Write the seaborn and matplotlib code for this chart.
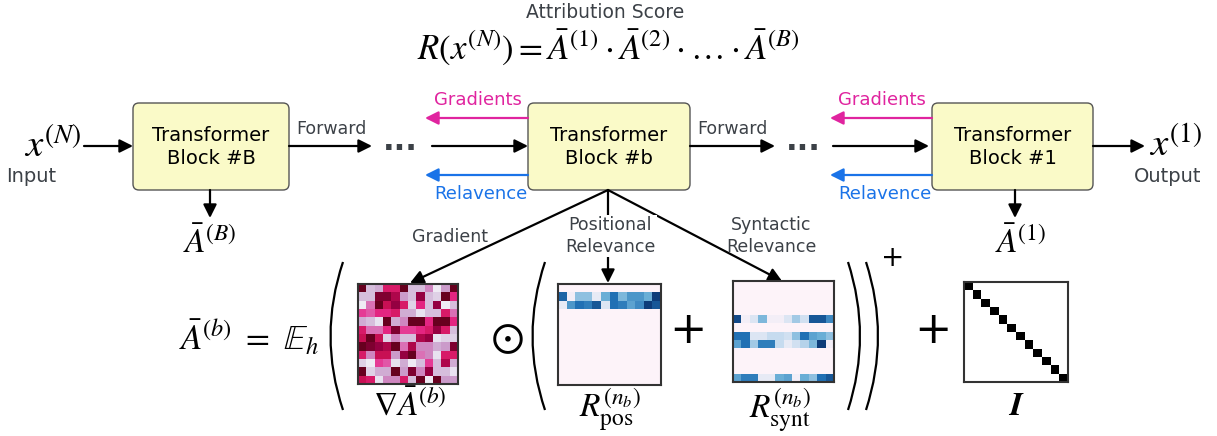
import numpy as np
import matplotlib
matplotlib.use('Agg')
import matplotlib.pyplot as plt
import seaborn as sns
from matplotlib.patches import FancyBboxPatch, PathPatch
from matplotlib.path import Path
from matplotlib.colors import LinearSegmentedColormap

# gradient attention map (12x12, PuRd scale)
grad_values = [
    [0.95, 0.20, 0.25, 0.60, 0.60, 0.95, 0.20, 0.20, 0.35, 0.05, 0.30, 0.90],
    [0.20, 0.20, 0.80, 0.80, 0.70, 0.30, 0.20, 0.75, 0.20, 0.15, 0.90, 0.55],
    [0.05, 0.40, 0.85, 0.65, 0.75, 0.60, 0.15, 0.55, 0.20, 0.75, 0.05, 0.20],
    [0.50, 0.45, 0.55, 0.55, 0.60, 0.25, 0.25, 0.10, 0.20, 0.20, 0.60, 0.40],
    [0.25, 0.20, 0.10, 0.85, 0.25, 0.35, 0.90, 0.90, 0.55, 0.90, 0.85, 0.55],
    [0.60, 0.40, 0.40, 0.55, 0.80, 0.50, 0.50, 0.55, 0.60, 0.75, 0.60, 0.20],
    [0.65, 0.90, 0.65, 0.15, 0.35, 0.20, 0.20, 0.70, 0.75, 0.10, 0.15, 0.15],
    [0.95, 0.80, 0.75, 0.70, 0.95, 0.40, 0.70, 0.35, 0.35, 0.25, 0.30, 0.80],
    [0.60, 0.35, 0.65, 0.65, 0.30, 0.75, 0.95, 0.40, 0.35, 0.10, 0.60, 0.60],
    [0.15, 0.05, 0.50, 0.45, 0.10, 0.25, 0.05, 0.20, 0.50, 0.20, 0.70, 0.25],
    [0.95, 0.15, 0.25, 0.25, 0.85, 0.30, 0.80, 0.35, 0.75, 0.20, 0.20, 0.10],
    [0.65, 0.60, 0.10, 0.35, 0.35, 0.60, 0.20, 0.95, 0.05, 0.95, 0.30, 0.30],
]

# positional relevance: only rows 1 and 2 are non-zero
pos_row1 = [0.80, 0.05, 0.40, 0.40, 0.10, 0.50, 0.75, 0.45, 0.60, 0.60, 0.50, 0.95]
pos_row2 = [0.10, 0.60, 0.75, 0.70, 0.85, 0.15, 0.75, 0.70, 0.55, 0.65, 0.95, 0.85]

# syntactic relevance: rows 4, 6, 7, 11
synt_row4 = [0.90, 0.05, 0.15, 0.45, 0.05, 0.05, 0.15, 0.35, 0.20, 0.85, 0.85, 0.65]
synt_row6 = [0.75, 0.75, 0.15, 0.15, 0.25, 0.25, 0.20, 0.40, 0.75, 0.55, 0.50, 0.40]
synt_row7 = [0.55, 0.75, 0.35, 0.70, 0.70, 0.25, 0.10, 0.20, 0.30, 0.45, 0.95, 0.05]
synt_row11 = [0.55, 0.70, 0.70, 0.10, 0.10, 0.50, 0.55, 0.05, 0.50, 0.40, 0.75, 0.85]

n = 12
grad = np.array(grad_values)
pos = np.zeros((n, n))
pos[1], pos[2] = pos_row1, pos_row2
synt = np.zeros((n, n))
synt[4], synt[6], synt[7], synt[11] = synt_row4, synt_row6, synt_row7, synt_row11
ident = np.eye(n)

W, H = 1217, 436
plt.rcParams['mathtext.fontset'] = 'stix'
plt.rcParams['font.family'] = ['DejaVu Sans']

fig = plt.figure(figsize=(W / 100, H / 100), dpi=100)
ax = fig.add_axes([0, 0, 1, 1])
ax.set_xlim(0, W)
ax.set_ylim(H, 0)
ax.axis('off')

GRAY = '#3c4147'
MAG = '#e0249f'
BLUE = '#1a73e8'
rel_cmap = LinearSegmentedColormap.from_list(
    'rel', ['#fdf3f9', '#c6dbef', '#6baed6', '#2171b5', '#08306b'])


def arrow(x0, y0, x1, y1, color='black', lw=1.6):
    ax.annotate('', xy=(x1, y1), xytext=(x0, y0),
                arrowprops=dict(arrowstyle='-|>', color=color, lw=lw,
                                mutation_scale=20, shrinkA=0, shrinkB=0))


def block(x0, x1, label):
    ax.add_patch(FancyBboxPatch((x0, 103), x1 - x0, 87,
                                boxstyle='round,pad=0,rounding_size=6',
                                fc='#fafac8', ec='#555555', lw=1.0))
    ax.text((x0 + x1) / 2, 147, label, ha='center', va='center',
            fontsize=14, linespacing=1.25)


def heat(data, x0, y0, x1, y1, cmap, vmax=1):
    hax = fig.add_axes([x0 / W, 1 - y1 / H, (x1 - x0) / W, (y1 - y0) / H])
    sns.heatmap(data, ax=hax, cmap=cmap, vmin=0, vmax=vmax, cbar=False,
                xticklabels=False, yticklabels=False, linewidths=0)
    for s in hax.spines.values():
        s.set_visible(True)
        s.set_color('#333333')
        s.set_linewidth(1.5)


def paren(x_end, x_mid, y0=262, y1=410):
    p = Path([(x_end, y0), (x_mid, (y0 + y1) / 2), (x_end, y1)],
             [Path.MOVETO, Path.CURVE3, Path.CURVE3])
    ax.add_patch(PathPatch(p, fc='none', ec='black', lw=1.6))


# title formula
ax.text(605, 12, 'Attribution Score', ha='center', va='center', fontsize=13.5, color=GRAY)
ax.text(608, 47, r'$R(x^{(N)}) = \bar{A}^{(1)} \cdot \bar{A}^{(2)} \cdot\ldots\cdot \bar{A}^{(B)}$',
        ha='center', va='center', fontsize=25)

# blocks
block(133, 289, 'Transformer\nBlock #B')
block(528, 690, 'Transformer\nBlock #b')
block(932, 1093, 'Transformer\nBlock #1')

# input / output
ax.text(53, 146, r'$x^{(N)}$', ha='center', va='center', fontsize=28)
ax.text(31, 176, 'Input', ha='center', va='center', fontsize=14, color=GRAY)
arrow(84, 146, 133, 146)
arrow(1093, 146, 1145, 146)
ax.text(1176, 146, r'$x^{(1)}$', ha='center', va='center', fontsize=28)
ax.text(1168, 176, 'Output', ha='center', va='center', fontsize=14, color=GRAY)

# forward chain
for xa, xb, xd, xc in [(289, 372, 400, 432), (690, 775, 803, 833)]:
    ax.text(xa + 42, 129, 'Forward', ha='center', va='center', fontsize=12.5, color=GRAY)
    arrow(xa, 146, xb, 146)
    ax.text(xd, 141, '...', ha='center', va='center', fontsize=22,
            fontweight='bold', color=GRAY)
    arrow(xc, 146, xc + 96, 146)

# backward gradients / relevance
for xr, xl in [(528, 425), (932, 830)]:
    arrow(xr, 118, xl, 118, color=MAG)
    ax.text(xr - 6, 100, 'Gradients', ha='right', va='center', fontsize=13, color=MAG)
    arrow(xr, 175, xl, 175, color=BLUE)
    ax.text(xr, 194, 'Relavence', ha='right', va='center', fontsize=13, color=BLUE)

# per-block attention outputs
arrow(210, 190, 210, 218)
ax.text(210, 243, r'$\bar{A}^{(B)}$', ha='center', va='center', fontsize=24)
arrow(1015, 190, 1015, 218)
ax.text(1020, 243, r'$\bar{A}^{(1)}$', ha='center', va='center', fontsize=24)

# decomposition of block b
arrow(608, 190, 410, 283)
arrow(608, 190, 608, 283)
arrow(608, 190, 782, 281)
ax.text(450, 237, 'Gradient', ha='center', va='center', fontsize=12.5, color=GRAY)
ax.text(610, 236, 'Positional\nRelevance', ha='center', va='center', fontsize=12.5,
        color=GRAY, linespacing=1.25, bbox=dict(fc='white', ec='none', pad=1))
ax.text(771, 236, 'Syntactic\nRelevance', ha='center', va='center', fontsize=12.5,
        color=GRAY, linespacing=1.25)

ax.text(249, 338, r'$\bar{A}^{(b)}\ =\ \mathbb{E}_h$', ha='center', va='center', fontsize=25)
paren(343, 318)
heat(grad, 358, 284, 458, 384, 'PuRd', vmax=0.85)
ax.text(410, 405, r'$\nabla\bar{A}^{(b)}$', ha='center', va='center', fontsize=24)
ax.text(507, 338, r'$\odot$', ha='center', va='center', fontsize=32)
paren(545, 520)
heat(pos, 558, 284, 661, 385, rel_cmap)
ax.text(610, 410, r'$R^{(n_b)}_{\mathrm{pos}}$', ha='center', va='center', fontsize=24)
ax.text(688, 330, '+', ha='center', va='center', fontsize=32)
heat(synt, 733, 281, 834, 382, rel_cmap)
ax.text(780, 410, r'$R^{(n_b)}_{\mathrm{synt}}$', ha='center', va='center', fontsize=24)
paren(848, 872)
paren(866, 890)
ax.text(893, 258, '+', ha='center', va='center', fontsize=20)
ax.text(933, 330, '+', ha='center', va='center', fontsize=32)
heat(ident, 964, 282, 1068, 382, LinearSegmentedColormap.from_list('bw', ['white', 'black']))
ax.text(1016, 405, r'$\boldsymbol{I}$', ha='center', va='center', fontsize=24)

fig.savefig('out.png', dpi=100)
